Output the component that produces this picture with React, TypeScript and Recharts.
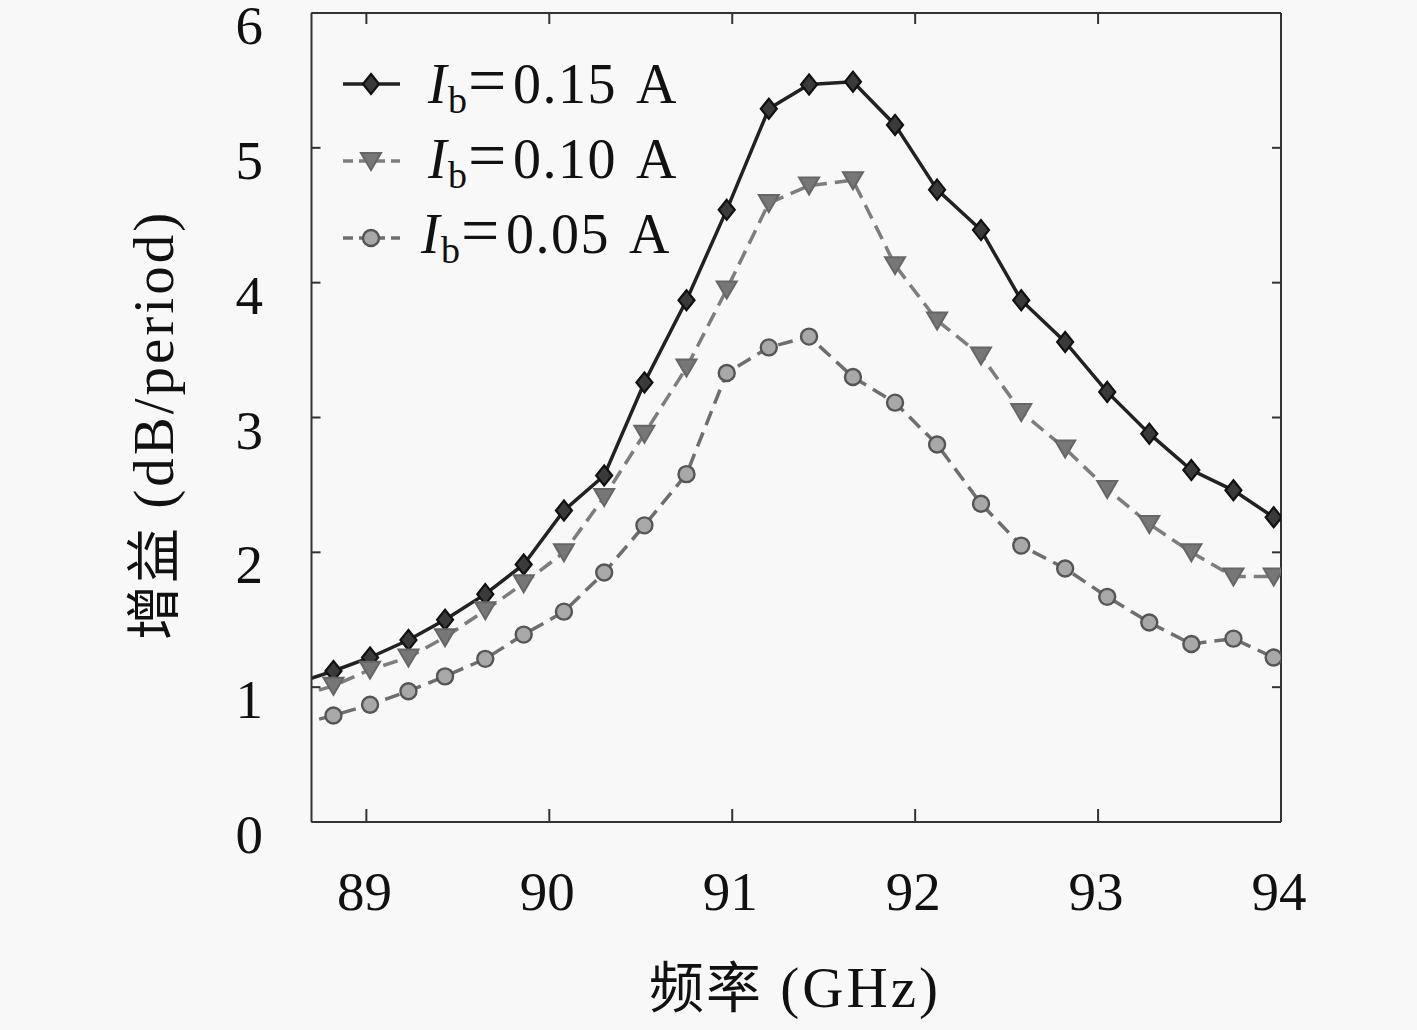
import { Legend, Line, LineChart, ReferenceLine, XAxis, YAxis } from 'recharts'

document.body.style.margin = '0'
document.body.style.background = '#f8f8f8'

// frequency points (GHz); the first one sits just left of the visible axis
const freqs = [
  88.62, 88.82, 89.02, 89.23, 89.43, 89.65, 89.86, 90.08, 90.3, 90.52, 90.75, 90.97, 91.2,
  91.42, 91.66, 91.89, 92.12, 92.36, 92.58, 92.82, 93.05, 93.28, 93.51, 93.74, 93.96,
]
const gain015 = [
  1.03, 1.12, 1.22, 1.35, 1.5, 1.69, 1.91, 2.31, 2.57, 3.26, 3.87, 4.54, 5.29, 5.47, 5.49,
  5.17, 4.69, 4.39, 3.87, 3.56, 3.19, 2.88, 2.61, 2.46, 2.26,
]
const gain010 = [
  0.93, 1.01, 1.13, 1.22, 1.37, 1.57, 1.77, 2.0, 2.41, 2.88, 3.37, 3.95, 4.59, 4.72, 4.76,
  4.13, 3.72, 3.46, 3.04, 2.77, 2.47, 2.21, 2.0, 1.82, 1.82,
]
const gain005 = [
  0.72, 0.79, 0.87, 0.97, 1.08, 1.21, 1.39, 1.56, 1.85, 2.2, 2.58, 3.33, 3.52, 3.6, 3.3, 3.11,
  2.8, 2.36, 2.05, 1.88, 1.67, 1.48, 1.32, 1.36, 1.22,
]
const xTicks = [89, 90, 91, 92, 93, 94]
const yTicks = [0, 1, 2, 3, 4, 5, 6]

const data = freqs.map((f, i) => ({ f, s15: gain015[i], s10: gain010[i], s05: gain005[i] }))

const W = 1417
const H = 1030
const PL = 311.5
const PT = 13
const PR = 1281
const PB = 822
const YW = 100
const XH = 100

const SERIF = 'Liberation Serif, DejaVu Serif, serif'
const CJK = 'Noto Sans CJK SC, sans-serif'
const FRAME = '#333'

type Shape = 'diamond' | 'triangle' | 'circle'

const SERIES = [
  { key: 's15', label: '0.15', shape: 'diamond' as Shape, stroke: '#222', fill: '#3a3a3a', mark: '#111', dash: undefined, width: 3.5 },
  { key: 's10', label: '0.10', shape: 'triangle' as Shape, stroke: '#7d7d7d', fill: '#777', mark: '#666', dash: '15 8', width: 3.5 },
  { key: 's05', label: '0.05', shape: 'circle' as Shape, stroke: '#6e6e6e', fill: '#a8a8a8', mark: '#555', dash: '15 8', width: 3.5 },
]

function Marker({ shape, cx, cy, fill, stroke }: { shape: Shape; cx: number; cy: number; fill: string; stroke: string }) {
  if (shape === 'diamond') {
    return (
      <path
        d={`M${cx},${cy - 10} L${cx + 8},${cy} L${cx},${cy + 10} L${cx - 8},${cy} Z`}
        fill={fill}
        stroke={stroke}
        strokeWidth={2.2}
      />
    )
  }
  if (shape === 'triangle') {
    return (
      <path
        d={`M${cx - 10},${cy - 8} L${cx + 10},${cy - 8} L${cx},${cy + 9} Z`}
        fill={fill}
        stroke={stroke}
        strokeWidth={2}
      />
    )
  }
  return <circle cx={cx} cy={cy} r={8} fill={fill} stroke={stroke} strokeWidth={2.4} />
}

const serifStyle = { fontFamily: SERIF }
const titleLatin = { fontFamily: SERIF, letterSpacing: 3, fontSize: 57 }
const cjkStyle = { fontFamily: CJK, letterSpacing: 2 }

function XTick({ x, payload }: any) {
  return (
    <g>
      <line x1={x} y1={PB} x2={x} y2={PB - 13} stroke={FRAME} strokeWidth={2} />
      <line x1={x} y1={PT} x2={x} y2={PT + 11} stroke={FRAME} strokeWidth={2} />
      <text x={x - 2} y={910} textAnchor="middle" style={serifStyle} fontSize={55} fill="#111">
        {payload.value}
      </text>
    </g>
  )
}

function YTick({ y, payload }: any) {
  return (
    <g>
      <line x1={PL} y1={y} x2={PL + 9} y2={y} stroke={FRAME} strokeWidth={2} />
      <line x1={PR} y1={y} x2={PR - 9} y2={y} stroke={FRAME} strokeWidth={2} />
      <text x={263} y={y + 31} textAnchor="end" style={serifStyle} fontSize={55} fill="#111">
        {payload.value}
      </text>
    </g>
  )
}

const ROW_Y = [84, 161, 238]
const ROW_BASE = [103, 178, 253]
const ROW_SHIFT = [0, 0, -7]

function LegendBox() {
  const ox = 330
  const oy = 40
  return (
    <svg width={400} height={240} style={{ overflow: 'visible', display: 'block' }}>
      <g transform={`translate(${-ox},${-oy})`}>
        {SERIES.map((s, i) => (
          <g key={s.key}>
            <line
              x1={343}
              y1={ROW_Y[i]}
              x2={400}
              y2={ROW_Y[i]}
              stroke={s.stroke}
              strokeWidth={s.width}
              strokeDasharray={s.dash ? '10 6' : undefined}
            />
            <Marker shape={s.shape} cx={371} cy={ROW_Y[i]} fill={s.fill} stroke={s.mark} />
            <text y={ROW_BASE[i]} style={serifStyle} fontSize={56} fill="#111">
              <tspan x={428 + ROW_SHIFT[i]} fontStyle="italic">I</tspan>
              <tspan x={448 + ROW_SHIFT[i]} dy={10} fontSize={38}>b</tspan>
              <tspan x={468 + ROW_SHIFT[i]} dy={-10} fontSize={68}>=</tspan>
              <tspan x={513 + ROW_SHIFT[i]} letterSpacing={1.5}>{s.label}</tspan>
              <tspan x={636 + ROW_SHIFT[i]}>A</tspan>
            </text>
          </g>
        ))}
      </g>
    </svg>
  )
}

export default function App() {
  return (
    <div style={{ width: W, height: H, background: '#f8f8f8', position: 'relative' }}>
      <LineChart
        width={W}
        height={H}
        data={data}
        margin={{ top: PT, right: W - PR, left: PL - YW, bottom: H - PB - XH }}
      >
        <XAxis
          type="number"
          dataKey="f"
          domain={[88.7, 94]}
          ticks={xTicks}
          allowDataOverflow
          height={XH}
          tickSize={0}
          tickMargin={0}
          tick={<XTick />}
          axisLine={{ stroke: FRAME, strokeWidth: 2 }}
          tickLine={false}
        />
        <YAxis
          type="number"
          domain={[0, 6]}
          ticks={yTicks}
          allowDataOverflow
          width={YW}
          tickSize={0}
          tickMargin={0}
          tick={<YTick />}
          axisLine={{ stroke: FRAME, strokeWidth: 2 }}
          tickLine={false}
        />
        <ReferenceLine y={6} stroke={FRAME} strokeWidth={2} />
        <ReferenceLine x={94} stroke={FRAME} strokeWidth={2} />
        {SERIES.map((s) => (
          <Line
            key={s.key}
            dataKey={s.key}
            type="linear"
            stroke={s.stroke}
            strokeWidth={s.width}
            strokeDasharray={s.dash}
            isAnimationActive={false}
            activeDot={false}
            dot={(p: any) => (
              <Marker key={`${s.key}-${p.index}`} shape={s.shape} cx={p.cx} cy={p.cy} fill={s.fill} stroke={s.mark} />
            )}
          />
        ))}
        <Legend
          layout="horizontal"
          verticalAlign="middle"
          align="center"
          content={<LegendBox />}
          wrapperStyle={{ position: 'absolute', left: 330, top: 40, width: 400, height: 240 }}
        />
      </LineChart>
      <svg
        width={W}
        height={H}
        style={{ position: 'absolute', left: 0, top: 0, pointerEvents: 'none' }}
      >
        <text x={795} y={1007} textAnchor="middle" fontSize={55} fill="#111">
          <tspan style={cjkStyle}>频率</tspan>
          <tspan style={titleLatin}> (GHz)</tspan>
        </text>
        <text
          x={0}
          y={0}
          transform="translate(173,425) rotate(-90)"
          textAnchor="middle"
          fontSize={55}
          fill="#111"
        >
          <tspan style={cjkStyle}>增益</tspan>
          <tspan style={titleLatin}> (dB/period)</tspan>
        </text>
      </svg>
    </div>
  )
}
